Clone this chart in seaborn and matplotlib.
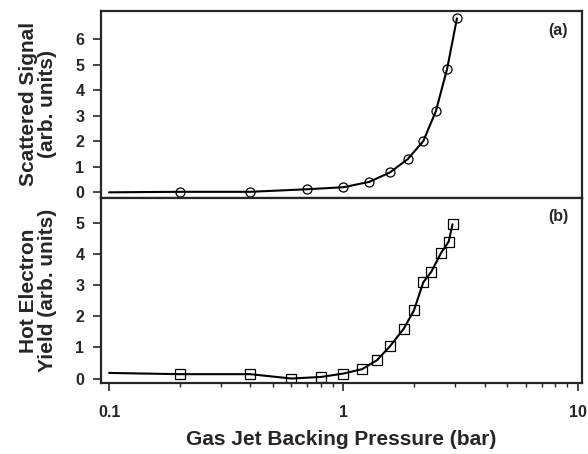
import matplotlib
matplotlib.use("Agg")
import matplotlib.pyplot as plt
import seaborn as sns

# panel (a): scattered signal vs backing pressure
pressure_a = [0.1, 0.2, 0.4, 0.7, 1.0, 1.29, 1.58, 1.88, 2.19, 2.48, 2.77, 3.05]
signal_a = [0.0, 0.02, 0.02, 0.12, 0.2, 0.41, 0.78, 1.30, 2.0, 3.18, 4.84, 6.81]

# panel (b): hot electron yield vs backing pressure
pressure_b = [0.1, 0.2, 0.4, 0.6, 0.8, 1.0, 1.2, 1.39, 1.58, 1.81, 2.0, 2.19, 2.37, 2.61, 2.81, 2.92]
yield_b = [0.18, 0.14, 0.14, 0.0, 0.05, 0.16, 0.30, 0.59, 1.04, 1.61, 2.20, 3.10, 3.44, 4.05, 4.41, 4.97]

yticks_a = [0, 1, 2, 3, 4, 5, 6]
yticks_b = [0, 1, 2, 3, 4, 5]
xticks = [0.1, 1, 10]
xticklabels = ["0.1", "1", "10"]

sns.set_style("ticks")
plt.rcParams["font.family"] = ["Liberation Sans", "DejaVu Sans"]
plt.rcParams["font.weight"] = "bold"

fig = plt.figure(figsize=(5.88, 4.54), dpi=100)
ax1 = fig.add_axes([0.172, 0.564, 0.818, 0.412])
ax2 = fig.add_axes([0.172, 0.156, 0.818, 0.408], sharex=ax1)

# first point (0.1) is drawn only as part of the line, no marker
sns.lineplot(x=pressure_a, y=signal_a, ax=ax1, color="black", linewidth=1.5,
             marker="o", markersize=6.5, markerfacecolor="none",
             markeredgecolor="black", markeredgewidth=0.9,
             markevery=slice(1, None))
sns.lineplot(x=pressure_b, y=yield_b, ax=ax2, color="black", linewidth=1.5,
             marker="s", markersize=6.5, markerfacecolor="none",
             markeredgecolor="black", markeredgewidth=0.9,
             markevery=slice(1, None))

ax1.set_xscale("log")
ax1.set_xlim(0.0925, 10.43)
ax1.set_ylim(-0.22, 7.1)
ax2.set_ylim(-0.15, 5.82)

ax1.set_yticks(yticks_a)
ax2.set_yticks(yticks_b)
ax2.set_xticks(xticks)
ax2.set_xticklabels(xticklabels)

for ax in (ax1, ax2):
    for sp in ax.spines.values():
        sp.set_linewidth(1.6)
        sp.set_visible(True)
    ax.tick_params(axis="y", direction="out", length=6, width=1.2, labelsize=11.5, pad=6)
    ax.tick_params(axis="x", which="major", direction="out", length=6, width=1.2,
                   labelsize=11.5, pad=10)
    ax.tick_params(axis="x", which="minor", direction="out", length=3, width=1.0)

ax1.tick_params(axis="x", which="both", length=0, labelbottom=False)

ax1.set_ylabel("Scattered Signal\n(arb. units)", fontsize=15, fontweight="bold",
               labelpad=13, linespacing=1.0)
ax2.set_ylabel("Hot Electron\nYield (arb. units)", fontsize=15, fontweight="bold",
               labelpad=13, linespacing=1.0)
ax2.set_xlabel("Gas Jet Backing Pressure (bar)", fontsize=15, fontweight="bold", labelpad=7)

ax1.text(0.971, 0.893, "(a)", transform=ax1.transAxes, ha="right", va="center",
         fontsize=11.5, fontweight="bold")
ax2.text(0.971, 0.90, "(b)", transform=ax2.transAxes, ha="right", va="center",
         fontsize=11.5, fontweight="bold")

fig.savefig("out.png", dpi=100)
